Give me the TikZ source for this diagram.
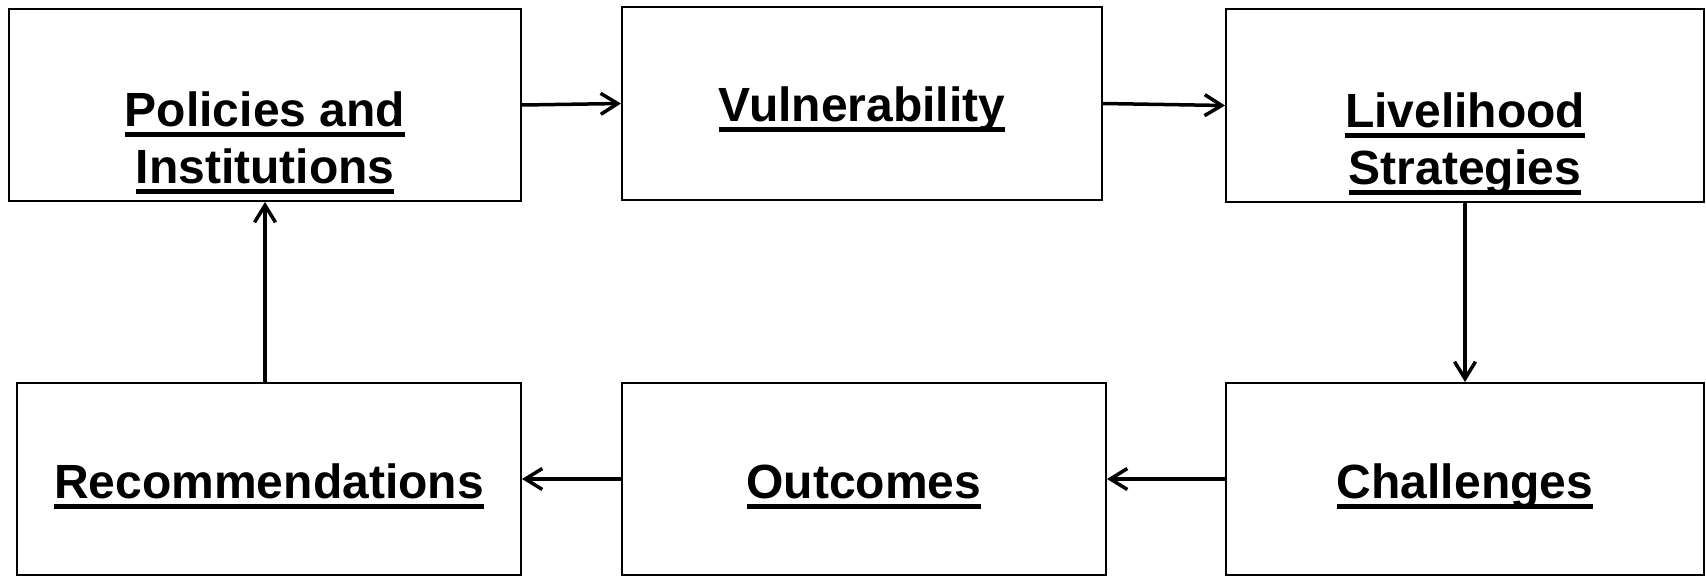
\documentclass[tikz,border=0pt]{standalone}
\usepackage{fontspec}
\setmainfont{Liberation Sans}
\usetikzlibrary{arrows.meta}
\newcommand{\myul}[1]{\setbox0=\hbox{#1}\rlap{\copy0}\rule[-11pt]{\wd0}{5pt}}
\tikzset{
  box/.style={draw=black, line width=2pt, inner sep=0pt, rectangle},
  lbl/.style={anchor=base, inner sep=0pt, font=\fontsize{48}{57}\selectfont\bfseries},
  conn/.style={draw=black, line width=3.5pt, -{Straight Barb[length=17pt,width=21pt,line width=3.5pt]}}
}
\begin{document}
\begin{tikzpicture}[x=1pt,y=-1pt]
\useasboundingbox (0,0) rectangle (1706,576);
% boxes
\node[box, minimum width=512pt, minimum height=192pt] (P) at (265,105) {};
\node[box, minimum width=480pt, minimum height=193pt] (V) at (862,103.5) {};
\node[box, minimum width=478pt, minimum height=193pt] (L) at (1465,105.5) {};
\node[box, minimum width=504pt, minimum height=192pt] (R) at (269,479) {};
\node[box, minimum width=484pt, minimum height=192pt] (O) at (864,479) {};
\node[box, minimum width=478pt, minimum height=192pt] (C) at (1465,479) {};
% labels
\node[lbl] (Pt) at (265,126) {\begin{tabular}[t]{@{}c@{}}\myul{Policies and}\\\myul{Institutions}\end{tabular}};
\node[lbl] (Vt) at (862,121) {\myul{Vulnerability}};
\node[lbl] (Lt) at (1465,127) {\begin{tabular}[t]{@{}c@{}}\myul{Livelihood}\\\myul{Strategies}\end{tabular}};
\node[lbl] (Rt) at (269,498) {\myul{Recommendations}};
\node[lbl] (Ot) at (864,498) {\myul{Outcomes}};
\node[lbl] (Ct) at (1465,498) {\myul{Challenges}};
% connectors
\draw[conn] (P.east) -- (V.west);
\draw[conn] (V.east) -- (L.west);
\draw[conn] (L.south) -- (C.north);
\draw[conn] (C.west) -- (O.east);
\draw[conn] (O.west) -- (R.east);
\draw[conn] (P.south |- R.north) -- (P.south);
\end{tikzpicture}
\end{document}
